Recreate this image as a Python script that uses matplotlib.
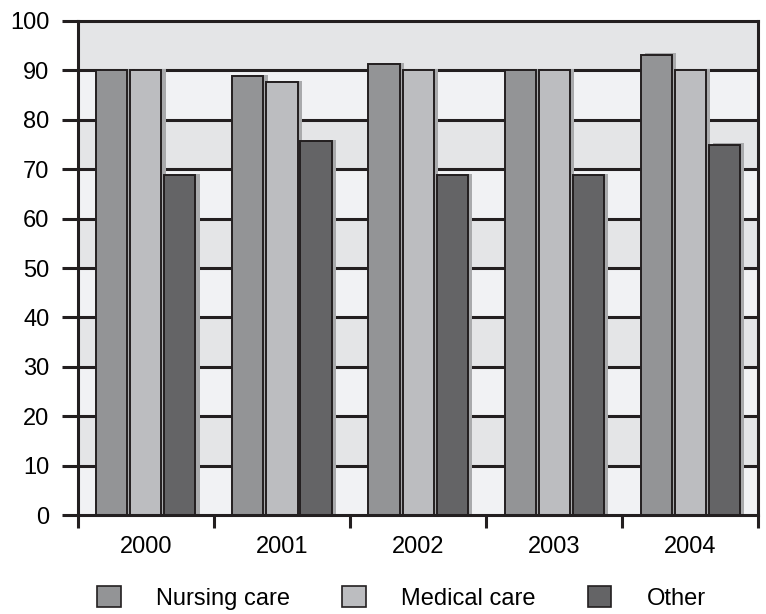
import numpy as np
import matplotlib.pyplot as plt
from matplotlib.patches import Patch

plt.rcParams['font.family'] = ['Liberation Sans', 'DejaVu Sans']

years = ['2000', '2001', '2002', '2003', '2004']
nursing = [90, 88.9, 91.3, 90, 93.2]
medical = [90, 87.6, 90, 90, 90]
other = [68.8, 75.7, 68.8, 68.8, 75.0]

series = [('Nursing care', nursing, '#939496'),
          ('Medical care', medical, '#bcbdc0'),
          ('Other', other, '#646466')]

ink = '#231f20'
fs = 17
fig = plt.figure(figsize=(7.66, 6.14), dpi=100)
ax = fig.add_axes([0.1018, 0.1612, 0.8878, 0.8046])

# alternating horizontal bands behind the bars
for i in range(10):
    ax.axhspan(i * 10, i * 10 + 10, color='#f1f2f4' if i % 2 == 0 else '#e4e5e7',
               lw=0, zorder=0)
for yv in range(10, 100, 10):
    ax.axhline(yv, color=ink, lw=2.2, zorder=1)

x = np.arange(len(years))
width = 0.228
for k, (name, vals, col) in enumerate(series):
    pos = x + (k - 1) * 0.25
    # drop shadow
    ax.bar(pos + 0.03, np.array(vals) + 0.25, width, color='#a9aaac', lw=0, zorder=2)
    ax.bar(pos, vals, width, color=col, edgecolor=ink, lw=1.4, zorder=3)

ax.set_xlim(-0.5, 4.5)
ax.set_ylim(0, 100)
ax.set_yticks(range(0, 101, 10))
ax.tick_params(axis='y', length=11.5, width=2.2, color=ink, pad=9, labelsize=fs)
ax.set_xticks(np.arange(-0.5, 5, 1))
ax.set_xticklabels([])
ax.tick_params(axis='x', which='major', length=9.5, width=2.2, color=ink)
ax.set_xticks(x, minor=True)
ax.set_xticklabels(years, minor=True)
ax.tick_params(axis='x', which='minor', length=0, pad=15, labelsize=fs)
for s in ax.spines.values():
    s.set_linewidth(2.2)
    s.set_color(ink)
    s.set_zorder(5)

handles = [Patch(facecolor=c, edgecolor=ink, lw=1.2) for _, _, c in series]
fig.legend(handles, [n for n, _, _ in series], loc='center', ncol=3,
           bbox_to_anchor=(0.524, 0.026), frameon=False, fontsize=fs,
           handlelength=1.0, handleheight=1.0, handletextpad=1.5,
           columnspacing=2.2)

fig.savefig('out.png', dpi=100)
